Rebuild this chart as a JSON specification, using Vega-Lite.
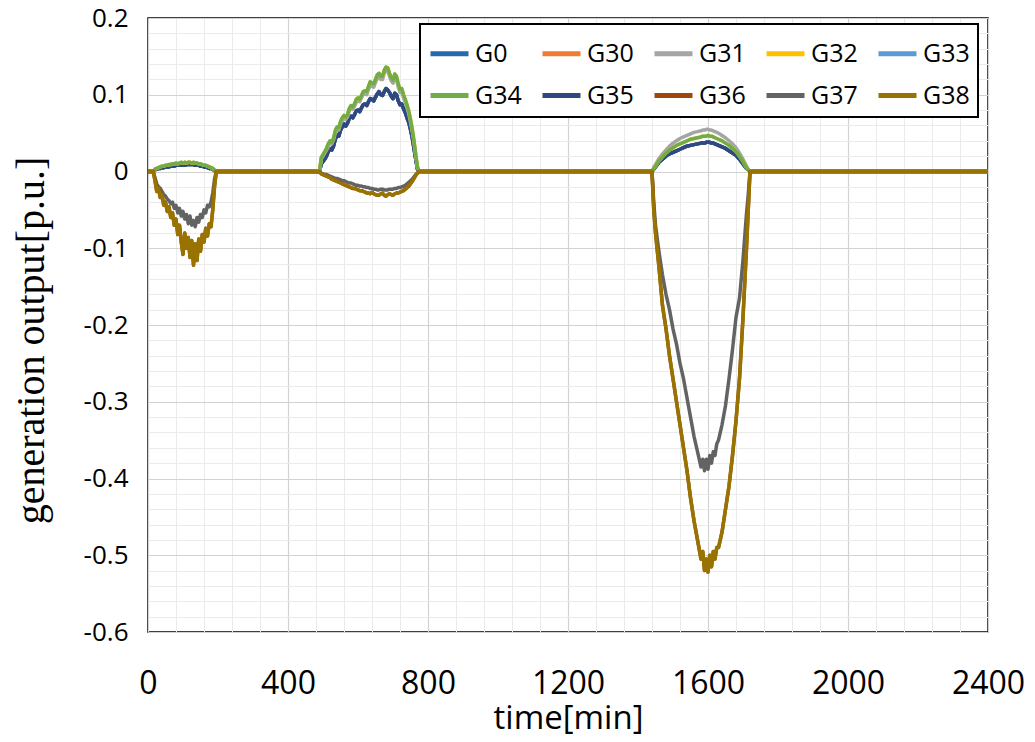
{
"$schema": "https://vega.github.io/schema/vega-lite/v6.json",
"width": 840, "height": 614,
"autosize": {"type": "none"},
"padding": {"left": 148, "top": 18, "right": 47, "bottom": 110},
"background": "white",
"config": {"view": {"stroke": "black", "strokeWidth": 1.5}, "legend": {"strokeWidth": 2}},
"data": {"values": [
{"t":0,"G0":0,"G31":0,"G34":0,"G35":0,"G37":0,"G38":0},
{"t":15,"G0":0,"G31":0,"G34":0,"G35":0,"G37":0,"G38":0},
{"t":20,"G0":0.002,"G31":0.003,"G34":0.003,"G35":0.002,"G37":-0.008,"G38":-0.012},
{"t":25,"G0":0.003,"G31":0.004,"G34":0.004,"G35":0.003,"G37":-0.016,"G38":-0.026},
{"t":30,"G0":0.004,"G31":0.005,"G34":0.005,"G35":0.004,"G37":-0.020,"G38":-0.022},
{"t":35,"G0":0.004,"G31":0.006,"G34":0.006,"G35":0.004,"G37":-0.022,"G38":-0.034},
{"t":40,"G0":0.005,"G31":0.007,"G34":0.007,"G35":0.005,"G37":-0.026,"G38":-0.030},
{"t":45,"G0":0.005,"G31":0.007,"G34":0.007,"G35":0.005,"G37":-0.030,"G38":-0.044},
{"t":50,"G0":0.006,"G31":0.008,"G34":0.008,"G35":0.006,"G37":-0.032,"G38":-0.040},
{"t":55,"G0":0.006,"G31":0.008,"G34":0.008,"G35":0.006,"G37":-0.036,"G38":-0.052},
{"t":60,"G0":0.006,"G31":0.009,"G34":0.009,"G35":0.006,"G37":-0.038,"G38":-0.046},
{"t":65,"G0":0.007,"G31":0.009,"G34":0.009,"G35":0.007,"G37":-0.042,"G38":-0.060},
{"t":70,"G0":0.007,"G31":0.010,"G34":0.010,"G35":0.007,"G37":-0.040,"G38":-0.054},
{"t":75,"G0":0.007,"G31":0.010,"G34":0.010,"G35":0.007,"G37":-0.048,"G38":-0.070},
{"t":80,"G0":0.008,"G31":0.011,"G34":0.011,"G35":0.008,"G37":-0.044,"G38":-0.062},
{"t":85,"G0":0.008,"G31":0.010,"G34":0.010,"G35":0.008,"G37":-0.054,"G38":-0.082},
{"t":90,"G0":0.008,"G31":0.011,"G34":0.011,"G35":0.008,"G37":-0.048,"G38":-0.070},
{"t":95,"G0":0.008,"G31":0.012,"G34":0.012,"G35":0.008,"G37":-0.058,"G38":-0.092},
{"t":100,"G0":0.009,"G31":0.011,"G34":0.011,"G35":0.009,"G37":-0.052,"G38":-0.108},
{"t":105,"G0":0.008,"G31":0.012,"G34":0.012,"G35":0.008,"G37":-0.062,"G38":-0.080},
{"t":110,"G0":0.009,"G31":0.011,"G34":0.011,"G35":0.009,"G37":-0.056,"G38":-0.100},
{"t":115,"G0":0.009,"G31":0.012,"G34":0.012,"G35":0.009,"G37":-0.068,"G38":-0.086},
{"t":120,"G0":0.009,"G31":0.012,"G34":0.012,"G35":0.009,"G37":-0.058,"G38":-0.112},
{"t":125,"G0":0.009,"G31":0.011,"G34":0.011,"G35":0.009,"G37":-0.070,"G38":-0.090},
{"t":130,"G0":0.009,"G31":0.012,"G34":0.012,"G35":0.009,"G37":-0.064,"G38":-0.122},
{"t":135,"G0":0.008,"G31":0.011,"G34":0.011,"G35":0.008,"G37":-0.072,"G38":-0.094},
{"t":140,"G0":0.008,"G31":0.011,"G34":0.011,"G35":0.008,"G37":-0.060,"G38":-0.116},
{"t":145,"G0":0.008,"G31":0.010,"G34":0.010,"G35":0.008,"G37":-0.066,"G38":-0.088},
{"t":150,"G0":0.007,"G31":0.010,"G34":0.010,"G35":0.007,"G37":-0.056,"G38":-0.104},
{"t":155,"G0":0.007,"G31":0.009,"G34":0.009,"G35":0.007,"G37":-0.060,"G38":-0.082},
{"t":160,"G0":0.006,"G31":0.008,"G34":0.008,"G35":0.006,"G37":-0.050,"G38":-0.092},
{"t":165,"G0":0.006,"G31":0.008,"G34":0.008,"G35":0.006,"G37":-0.054,"G38":-0.074},
{"t":170,"G0":0.005,"G31":0.007,"G34":0.007,"G35":0.005,"G37":-0.044,"G38":-0.084},
{"t":175,"G0":0.004,"G31":0.006,"G34":0.006,"G35":0.004,"G37":-0.046,"G38":-0.068},
{"t":180,"G0":0.004,"G31":0.005,"G34":0.005,"G35":0.004,"G37":-0.040,"G38":-0.072},
{"t":185,"G0":0.003,"G31":0.004,"G34":0.004,"G35":0.003,"G37":-0.028,"G38":-0.050},
{"t":190,"G0":0.001,"G31":0.002,"G34":0.002,"G35":0.001,"G37":-0.010,"G38":-0.020},
{"t":195,"G0":0,"G31":0,"G34":0,"G35":0,"G37":0,"G38":0},
{"t":480,"G0":0,"G31":0,"G34":0,"G35":0,"G37":0,"G38":0},
{"t":490,"G0":0,"G31":0,"G34":0,"G35":0,"G37":0,"G38":-0.001},
{"t":495,"G0":0.010,"G31":0.016,"G34":0.018,"G35":0.010,"G37":-0.002,"G38":-0.003},
{"t":500,"G0":0.013,"G31":0.020,"G34":0.022,"G35":0.013,"G37":-0.003,"G38":-0.004},
{"t":505,"G0":0.016,"G31":0.024,"G34":0.026,"G35":0.016,"G37":-0.004,"G38":-0.005},
{"t":510,"G0":0.020,"G31":0.028,"G34":0.030,"G35":0.020,"G37":-0.004,"G38":-0.006},
{"t":515,"G0":0.026,"G31":0.032,"G34":0.036,"G35":0.026,"G37":-0.005,"G38":-0.007},
{"t":520,"G0":0.030,"G31":0.038,"G34":0.040,"G35":0.030,"G37":-0.006,"G38":-0.008},
{"t":525,"G0":0.028,"G31":0.036,"G34":0.038,"G35":0.028,"G37":-0.007,"G38":-0.010},
{"t":530,"G0":0.033,"G31":0.041,"G34":0.043,"G35":0.033,"G37":-0.008,"G38":-0.011},
{"t":535,"G0":0.042,"G31":0.050,"G34":0.053,"G35":0.042,"G37":-0.009,"G38":-0.012},
{"t":540,"G0":0.048,"G31":0.055,"G34":0.058,"G35":0.048,"G37":-0.009,"G38":-0.013},
{"t":545,"G0":0.046,"G31":0.054,"G34":0.057,"G35":0.046,"G37":-0.010,"G38":-0.014},
{"t":550,"G0":0.054,"G31":0.062,"G34":0.065,"G35":0.054,"G37":-0.011,"G38":-0.015},
{"t":555,"G0":0.058,"G31":0.066,"G34":0.070,"G35":0.058,"G37":-0.012,"G38":-0.016},
{"t":560,"G0":0.062,"G31":0.070,"G34":0.073,"G35":0.062,"G37":-0.012,"G38":-0.017},
{"t":565,"G0":0.059,"G31":0.068,"G34":0.071,"G35":0.059,"G37":-0.013,"G38":-0.018},
{"t":570,"G0":0.063,"G31":0.071,"G34":0.074,"G35":0.063,"G37":-0.014,"G38":-0.019},
{"t":575,"G0":0.069,"G31":0.079,"G34":0.082,"G35":0.069,"G37":-0.015,"G38":-0.020},
{"t":580,"G0":0.072,"G31":0.083,"G34":0.086,"G35":0.072,"G37":-0.015,"G38":-0.021},
{"t":585,"G0":0.070,"G31":0.081,"G34":0.084,"G35":0.070,"G37":-0.016,"G38":-0.022},
{"t":590,"G0":0.074,"G31":0.085,"G34":0.088,"G35":0.074,"G37":-0.017,"G38":-0.022},
{"t":595,"G0":0.079,"G31":0.090,"G34":0.094,"G35":0.079,"G37":-0.018,"G38":-0.023},
{"t":600,"G0":0.080,"G31":0.092,"G34":0.096,"G35":0.080,"G37":-0.018,"G38":-0.024},
{"t":605,"G0":0.078,"G31":0.091,"G34":0.094,"G35":0.078,"G37":-0.019,"G38":-0.025},
{"t":610,"G0":0.083,"G31":0.096,"G34":0.099,"G35":0.083,"G37":-0.019,"G38":-0.025},
{"t":615,"G0":0.087,"G31":0.100,"G34":0.104,"G35":0.087,"G37":-0.020,"G38":-0.026},
{"t":620,"G0":0.088,"G31":0.101,"G34":0.105,"G35":0.088,"G37":-0.020,"G38":-0.027},
{"t":625,"G0":0.086,"G31":0.100,"G34":0.104,"G35":0.086,"G37":-0.021,"G38":-0.028},
{"t":630,"G0":0.091,"G31":0.107,"G34":0.111,"G35":0.091,"G37":-0.021,"G38":-0.028},
{"t":635,"G0":0.095,"G31":0.112,"G34":0.117,"G35":0.095,"G37":-0.022,"G38":-0.029},
{"t":640,"G0":0.094,"G31":0.111,"G34":0.115,"G35":0.094,"G37":-0.022,"G38":-0.027},
{"t":645,"G0":0.092,"G31":0.110,"G34":0.114,"G35":0.092,"G37":-0.023,"G38":-0.029},
{"t":650,"G0":0.097,"G31":0.116,"G34":0.120,"G35":0.097,"G37":-0.023,"G38":-0.030},
{"t":655,"G0":0.101,"G31":0.121,"G34":0.126,"G35":0.101,"G37":-0.024,"G38":-0.031},
{"t":660,"G0":0.104,"G31":0.124,"G34":0.128,"G35":0.104,"G37":-0.024,"G38":-0.031},
{"t":665,"G0":0.100,"G31":0.120,"G34":0.124,"G35":0.100,"G37":-0.023,"G38":-0.029},
{"t":670,"G0":0.099,"G31":0.120,"G34":0.124,"G35":0.099,"G37":-0.023,"G38":-0.028},
{"t":675,"G0":0.104,"G31":0.128,"G34":0.132,"G35":0.104,"G37":-0.024,"G38":-0.031},
{"t":680,"G0":0.108,"G31":0.132,"G34":0.136,"G35":0.108,"G37":-0.024,"G38":-0.032},
{"t":685,"G0":0.106,"G31":0.131,"G34":0.135,"G35":0.106,"G37":-0.024,"G38":-0.030},
{"t":690,"G0":0.103,"G31":0.124,"G34":0.128,"G35":0.103,"G37":-0.023,"G38":-0.029},
{"t":695,"G0":0.098,"G31":0.118,"G34":0.122,"G35":0.098,"G37":-0.023,"G38":-0.030},
{"t":700,"G0":0.095,"G31":0.115,"G34":0.119,"G35":0.095,"G37":-0.023,"G38":-0.031},
{"t":705,"G0":0.102,"G31":0.123,"G34":0.127,"G35":0.102,"G37":-0.022,"G38":-0.029},
{"t":710,"G0":0.100,"G31":0.120,"G34":0.124,"G35":0.100,"G37":-0.022,"G38":-0.028},
{"t":715,"G0":0.092,"G31":0.110,"G34":0.114,"G35":0.092,"G37":-0.021,"G38":-0.028},
{"t":720,"G0":0.087,"G31":0.103,"G34":0.107,"G35":0.087,"G37":-0.021,"G38":-0.027},
{"t":725,"G0":0.088,"G31":0.104,"G34":0.108,"G35":0.088,"G37":-0.020,"G38":-0.026},
{"t":730,"G0":0.082,"G31":0.096,"G34":0.100,"G35":0.082,"G37":-0.019,"G38":-0.025},
{"t":735,"G0":0.077,"G31":0.090,"G34":0.094,"G35":0.077,"G37":-0.018,"G38":-0.023},
{"t":740,"G0":0.070,"G31":0.083,"G34":0.087,"G35":0.070,"G37":-0.016,"G38":-0.021},
{"t":745,"G0":0.064,"G31":0.075,"G34":0.079,"G35":0.064,"G37":-0.014,"G38":-0.019},
{"t":750,"G0":0.055,"G31":0.064,"G34":0.068,"G35":0.055,"G37":-0.012,"G38":-0.016},
{"t":755,"G0":0.044,"G31":0.052,"G34":0.055,"G35":0.044,"G37":-0.010,"G38":-0.013},
{"t":760,"G0":0.030,"G31":0.037,"G34":0.040,"G35":0.030,"G37":-0.007,"G38":-0.009},
{"t":765,"G0":0.016,"G31":0.020,"G34":0.022,"G35":0.016,"G37":-0.004,"G38":-0.005},
{"t":770,"G0":0.003,"G31":0.005,"G34":0.006,"G35":0.003,"G37":-0.002,"G38":-0.002},
{"t":775,"G0":0,"G31":0,"G34":0,"G35":0,"G37":0,"G38":0},
{"t":1430,"G0":0,"G31":0,"G34":0,"G35":0,"G37":0,"G38":0},
{"t":1440,"G0":0,"G31":0,"G34":0,"G35":0,"G37":0,"G38":0},
{"t":1445,"G0":0.003,"G31":0.005,"G34":0.004,"G35":0.003,"G37":-0.04,"G38":-0.05},
{"t":1450,"G0":0.006,"G31":0.009,"G34":0.007,"G35":0.006,"G37":-0.07,"G38":-0.08},
{"t":1460,"G0":0.012,"G31":0.017,"G34":0.014,"G35":0.012,"G37":-0.105,"G38":-0.125},
{"t":1470,"G0":0.016,"G31":0.023,"G34":0.019,"G35":0.016,"G37":-0.135,"G38":-0.175},
{"t":1480,"G0":0.020,"G31":0.028,"G34":0.024,"G35":0.020,"G37":-0.16,"G38":-0.205},
{"t":1490,"G0":0.023,"G31":0.033,"G34":0.028,"G35":0.023,"G37":-0.18,"G38":-0.24},
{"t":1500,"G0":0.025,"G31":0.037,"G34":0.031,"G35":0.025,"G37":-0.205,"G38":-0.27},
{"t":1510,"G0":0.027,"G31":0.040,"G34":0.034,"G35":0.027,"G37":-0.225,"G38":-0.30},
{"t":1520,"G0":0.029,"G31":0.043,"G34":0.036,"G35":0.029,"G37":-0.25,"G38":-0.33},
{"t":1530,"G0":0.031,"G31":0.045,"G34":0.038,"G35":0.031,"G37":-0.27,"G38":-0.36},
{"t":1540,"G0":0.033,"G31":0.047,"G34":0.040,"G35":0.033,"G37":-0.295,"G38":-0.39},
{"t":1550,"G0":0.034,"G31":0.049,"G34":0.042,"G35":0.034,"G37":-0.32,"G38":-0.425},
{"t":1560,"G0":0.035,"G31":0.051,"G34":0.043,"G35":0.035,"G37":-0.345,"G38":-0.455},
{"t":1570,"G0":0.036,"G31":0.052,"G34":0.044,"G35":0.036,"G37":-0.365,"G38":-0.48},
{"t":1580,"G0":0.037,"G31":0.053,"G34":0.045,"G35":0.037,"G37":-0.385,"G38":-0.505},
{"t":1585,"G0":0.037,"G31":0.054,"G34":0.046,"G35":0.037,"G37":-0.375,"G38":-0.495},
{"t":1590,"G0":0.037,"G31":0.054,"G34":0.046,"G35":0.037,"G37":-0.39,"G38":-0.52},
{"t":1595,"G0":0.038,"G31":0.055,"G34":0.046,"G35":0.038,"G37":-0.375,"G38":-0.505},
{"t":1600,"G0":0.038,"G31":0.055,"G34":0.047,"G35":0.038,"G37":-0.388,"G38":-0.522},
{"t":1605,"G0":0.038,"G31":0.054,"G34":0.046,"G35":0.038,"G37":-0.37,"G38":-0.50},
{"t":1610,"G0":0.037,"G31":0.054,"G34":0.046,"G35":0.037,"G37":-0.38,"G38":-0.515},
{"t":1615,"G0":0.037,"G31":0.053,"G34":0.045,"G35":0.037,"G37":-0.365,"G38":-0.495},
{"t":1620,"G0":0.036,"G31":0.052,"G34":0.044,"G35":0.036,"G37":-0.37,"G38":-0.505},
{"t":1625,"G0":0.035,"G31":0.051,"G34":0.043,"G35":0.035,"G37":-0.355,"G38":-0.49},
{"t":1630,"G0":0.034,"G31":0.050,"G34":0.042,"G35":0.034,"G37":-0.35,"G38":-0.49},
{"t":1640,"G0":0.032,"G31":0.047,"G34":0.040,"G35":0.032,"G37":-0.33,"G38":-0.47},
{"t":1650,"G0":0.030,"G31":0.044,"G34":0.037,"G35":0.030,"G37":-0.305,"G38":-0.44},
{"t":1660,"G0":0.027,"G31":0.040,"G34":0.034,"G35":0.027,"G37":-0.27,"G38":-0.41},
{"t":1670,"G0":0.024,"G31":0.036,"G34":0.030,"G35":0.024,"G37":-0.232,"G38":-0.37},
{"t":1680,"G0":0.021,"G31":0.031,"G34":0.026,"G35":0.021,"G37":-0.19,"G38":-0.325},
{"t":1690,"G0":0.016,"G31":0.024,"G34":0.020,"G35":0.016,"G37":-0.165,"G38":-0.27},
{"t":1700,"G0":0.010,"G31":0.016,"G34":0.013,"G35":0.010,"G37":-0.115,"G38":-0.19},
{"t":1710,"G0":0.004,"G31":0.007,"G34":0.005,"G35":0.004,"G37":-0.055,"G38":-0.10},
{"t":1715,"G0":0.002,"G31":0.003,"G34":0.002,"G35":0.002,"G37":-0.03,"G38":-0.05},
{"t":1720,"G0":0,"G31":0,"G34":0,"G35":0,"G37":0,"G38":0},
{"t":2400,"G0":0,"G31":0,"G34":0,"G35":0,"G37":0,"G38":0}
]},
"transform": [
  {"fold": ["G0","G35","G31","G34","G37","G38"], "as": ["key","value"]},
  {"lookup": "key", "from": {"data": {"values": [
     {"key":"G0","series":["G30","G33","G0"]},
     {"key":"G35","series":["G35"]},
     {"key":"G31","series":["G31"]},
     {"key":"G34","series":["G32","G34"]},
     {"key":"G37","series":["G37"]},
     {"key":"G38","series":["G36","G38"]}
  ]}, "key": "key", "fields": ["series"]}},
  {"flatten": ["series"]}
],
"layer": [
{"mark": {"type": "point", "opacity": 0},
 "encoding": {
  "x": {"field": "t", "type": "quantitative", "scale": {"domain": [0, 2400], "nice": false},
        "axis": {"orient": "bottom", "values": [80,160,240,320,480,560,640,720,880,960,1040,1120,1280,1360,1440,1520,1680,1760,1840,1920,2080,2160,2240,2320], "grid": true, "gridColor": "#EBEBEB", "gridWidth": 1, "labels": false, "ticks": false, "domain": false, "title": null}},
  "y": {"field": "value", "type": "quantitative", "scale": {"domain": [-0.6, 0.2], "nice": false},
        "axis": {"orient": "left", "values": [-0.58,-0.56,-0.54,-0.52,-0.48,-0.46,-0.44,-0.42,-0.38,-0.36,-0.34,-0.32,-0.28,-0.26,-0.24,-0.22,-0.18,-0.16,-0.14,-0.12,-0.08,-0.06,-0.04,-0.02,0.02,0.04,0.06,0.08,0.12,0.14,0.16,0.18], "grid": true, "gridColor": "#EBEBEB", "gridWidth": 1, "labels": false, "ticks": false, "domain": false, "title": null}}
 }},
{"mark": {"type": "line", "strokeWidth": 3.5, "strokeJoin": "round"},
 "encoding": {
  "x": {"field": "t", "type": "quantitative", "scale": {"domain": [0, 2400], "nice": false},
        "axis": {"orient": "bottom", "values": [0,400,800,1200,1600,2000,2400], "labelExpr": "'' + datum.value", "grid": true, "gridColor": "#D2D2D2", "gridWidth": 1.2, "ticks": false, "domain": false, "labelFont": "Open Sans", "labelFontSize": 32, "labelColor": "black", "labelPadding": 36, "labelFlush": false, "title": "time[min]", "titleFont": "Open Sans", "titleFontSize": 33, "titleFontWeight": "normal", "titleColor": "black", "titlePadding": 3}},
  "y": {"field": "value", "type": "quantitative", "scale": {"domain": [-0.6, 0.2], "nice": false},
        "axis": {"orient": "left", "values": [-0.6,-0.5,-0.4,-0.3,-0.2,-0.1,0,0.1,0.2], "labelExpr": "'' + datum.value", "grid": true, "gridColor": "#D2D2D2", "gridWidth": 1.2, "ticks": false, "domain": false, "labelFont": "Open Sans", "labelFontSize": 26, "labelColor": "black", "labelPadding": 20, "labelFlush": false, "title": "generation output[p.u.]", "titleFont": "Liberation Serif", "titleFontSize": 40, "titleFontWeight": "normal", "titleColor": "black", "titlePadding": 32, "titleY": 322}},
  "color": {"field": "series", "type": "nominal",
    "scale": {"domain": ["G0","G30","G31","G32","G33","G34","G35","G36","G37","G38"],
              "range": ["#2468AE","#ED7D31","#A5A5A5","#FFC000","#5B9BD5","#70AD47","#2F4880","#9E480E","#636363","#997300"]},
    "legend": {"orient": "none", "legendX": 272, "legendY": 6, "direction": "horizontal", "columns": 5, "title": null, "symbolType": "stroke", "symbolSize": 1444, "symbolStrokeWidth": 5, "labelFont": "Open Sans", "labelFontSize": 25, "labelColor": "black", "labelOffset": 4, "columnPadding": 10, "rowPadding": 7, "padding": 8, "strokeColor": "black", "fillColor": "white", "labelLimit": 200}}
 }}
],
"resolve": {"axis": {"x": "independent", "y": "independent"}}
}
